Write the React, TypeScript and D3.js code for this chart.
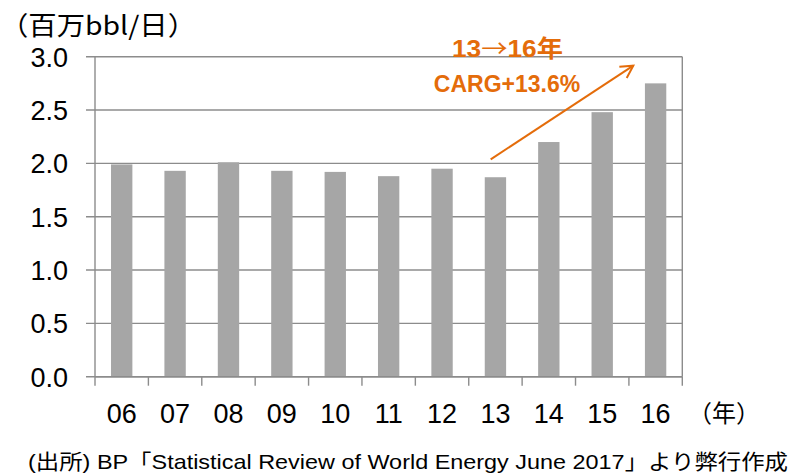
import React from "react";
import * as d3 from "d3";

const years = ["06", "07", "08", "09", "10", "11", "12", "13", "14", "15", "16"];
const values = [1.99, 1.93, 2.01, 1.93, 1.92, 1.88, 1.95, 1.87, 2.2, 2.48, 2.75];
const yTicks = [0, 0.5, 1.0, 1.5, 2.0, 2.5, 3.0];
const unitLabel = "（百万bbl/日）";
const yearLabel = "（年）";
const annot1a = "13";
const annot1b = "→";
const annot1c = "16年";
const annot2 = "CARG+13.6%";
const source = "(出所) BP「Statistical Review of World Energy June 2017」より弊行作成";

const W = 793;
const H = 474;
const left = 95;
const right = 682.3;
const top = 56.7;
const bottom = 376.7;
const gridColor = "#8c8c8c";
const barColor = "#a6a6a6";
const orange = "#E46C0A";
const font = "'Liberation Sans', Arial, 'Noto Sans CJK JP', sans-serif";
const cjk = "'Noto Sans CJK JP', 'Liberation Sans', sans-serif";

export default function App() {
  const x = d3.scaleBand<string>().domain(years).range([left, right]).paddingInner(0.6).paddingOuter(0.3);
  const xEdge = d3.scaleLinear().domain([0, years.length]).range([left, right]);
  const y = d3.scaleLinear().domain([0, 3]).range([bottom, top]);

  const arrowStart: [number, number] = [490.7, 159.3];
  const arrowEnd: [number, number] = [633.3, 65.7];
  const ang = Math.atan2(arrowEnd[1] - arrowStart[1], arrowEnd[0] - arrowStart[0]);
  const hl = 14;
  const ha = 0.5;
  const h1 = [arrowEnd[0] - hl * Math.cos(ang - ha), arrowEnd[1] - hl * Math.sin(ang - ha)];
  const h2 = [arrowEnd[0] - hl * Math.cos(ang + ha), arrowEnd[1] - hl * Math.sin(ang + ha)];

  return (
    <svg width={W} height={H} style={{ position: "absolute", left: 0, top: 0, background: "#fff" }}>
      <rect x={0} y={0} width={W} height={H} fill="#fff" />
      {yTicks.map((t) => (
        <g key={t}>
          <line x1={left - 9} x2={right} y1={y(t)} y2={y(t)} stroke={gridColor} strokeWidth={1.4} />
          <text x={68} y={y(t) + 10} textAnchor="end" fontFamily={font} fontSize={27} fill="#000">
            {t.toFixed(1)}
          </text>
        </g>
      ))}
      {values.map((v, i) => (
        <rect
          key={years[i]}
          x={x(years[i])}
          width={x.bandwidth()}
          y={y(v)}
          height={bottom - y(v)}
          fill={barColor}
        />
      ))}
      <line x1={left} x2={left} y1={top} y2={bottom} stroke={gridColor} strokeWidth={1.4} />
      <line x1={right} x2={right} y1={top} y2={bottom} stroke={gridColor} strokeWidth={1.4} />
      <line x1={left} x2={right} y1={bottom} y2={bottom} stroke={gridColor} strokeWidth={1.6} />
      {d3.range(years.length + 1).map((i) => (
        <line key={i} x1={xEdge(i)} x2={xEdge(i)} y1={bottom} y2={bottom + 9} stroke={gridColor} strokeWidth={1.4} />
      ))}
      {years.map((yr) => (
        <text
          key={yr}
          x={(x(yr) as number) + x.bandwidth() / 2}
          y={422.7}
          textAnchor="middle"
          fontFamily={font}
          fontSize={27}
          fill="#000"
        >
          {yr}
        </text>
      ))}
      <text x={688} y={422} fontFamily={cjk} fontSize={24} fill="#000">
        {yearLabel}
      </text>
      <text x={0} y={35} fontFamily={cjk} fontSize={26} fill="#000" textLength={196} lengthAdjust="spacingAndGlyphs">
        {unitLabel}
      </text>
      <text x={452} y={56.5} fontFamily={font} fontWeight="bold" fontSize={24} fill={orange} textLength={111} lengthAdjust="spacingAndGlyphs">
        <tspan>{annot1a}</tspan>
        <tspan fontFamily={cjk} fontWeight="normal">{annot1b}</tspan>
        <tspan>{annot1c}</tspan>
      </text>
      <text x={507} y={91.5} textAnchor="middle" fontFamily={font} fontWeight="bold" fontSize={23} fill={orange}>
        {annot2}
      </text>
      <line x1={arrowStart[0]} y1={arrowStart[1]} x2={arrowEnd[0]} y2={arrowEnd[1]} stroke={orange} strokeWidth={2} />
      <polyline
        points={`${h1[0]},${h1[1]} ${arrowEnd[0]},${arrowEnd[1]} ${h2[0]},${h2[1]}`}
        fill="none"
        stroke={orange}
        strokeWidth={2}
      />
      <text x={28} y={469} fontFamily={font} fontSize={21} fill="#000" textLength={760} lengthAdjust="spacingAndGlyphs">
        {source}
      </text>
    </svg>
  );
}
